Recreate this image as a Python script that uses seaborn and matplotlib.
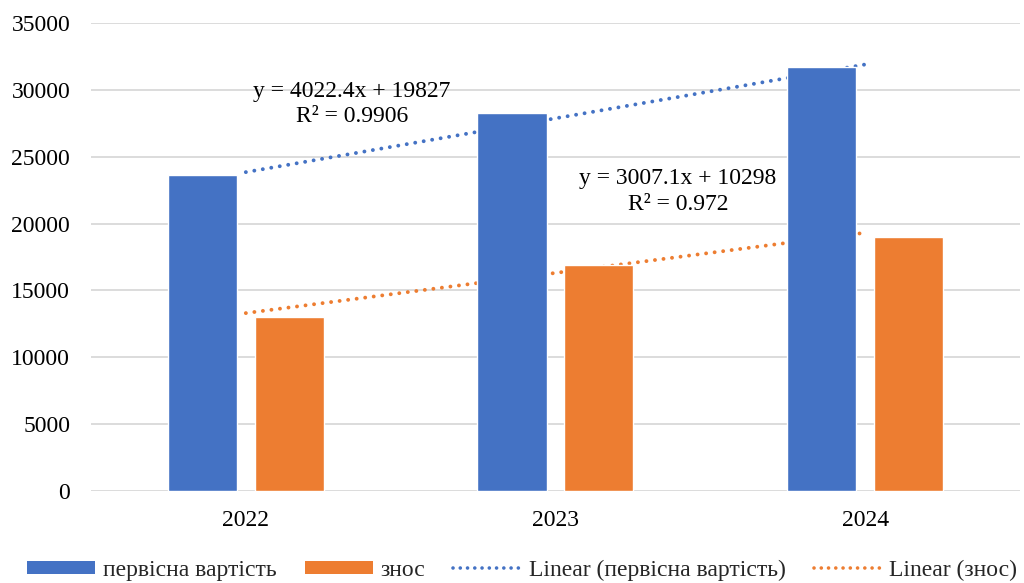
import numpy as np
import pandas as pd
import matplotlib
matplotlib.use("Agg")
import matplotlib.pyplot as plt
import seaborn as sns
from matplotlib.lines import Line2D
from matplotlib.patches import Patch

years = ["2022", "2023", "2024"]
series_names = ["первісна вартість", "знос"]
initial_cost = [23650, 28270, 31700]
depreciation = [13000, 16920, 19010]
eq_texts = ["y = 4022.4x + 19827\nR² = 0.9906", "y = 3007.1x + 10298\nR² = 0.972"]
yticks = [0, 5000, 10000, 15000, 20000, 25000, 30000, 35000]

colors = ["#4472C4", "#ED7D31"]

sns.set_theme(style="white")
plt.rcParams["font.family"] = ["Liberation Serif", "DejaVu Serif"]

df = pd.DataFrame({
    "year": years * 2,
    "series": [series_names[0]] * 3 + [series_names[1]] * 3,
    "value": initial_cost + depreciation,
})

fig = plt.figure(figsize=(10.24, 5.83), dpi=100)
ax = fig.add_axes([0.0889, 0.1578, 0.996 - 0.0889, 0.9605 - 0.1578])

sns.barplot(data=df, x="year", y="value", hue="series", palette=colors,
            width=0.56, gap=0.2, ax=ax, legend=False, zorder=3,
            saturation=1, err_kws={"linewidth": 0})

dot = (0, (0.01, 2.2))

# trendlines (Excel-style, x = 1..n)
xs = np.arange(1, len(years) + 1)
pos = np.arange(len(years))
for vals, c in zip([initial_cost, depreciation], colors):
    k, b = np.polyfit(xs, vals, 1)
    line, = ax.plot(pos, k * xs + b, linestyle=dot, color=c, linewidth=2.8,
                    zorder=2)
    line.set_dash_capstyle("round")

ax.text(0.343, 28950, eq_texts[0], ha="center", va="center", fontsize=17,
        color="#000000", linespacing=1.3, zorder=4)
ax.text(1.396, 22400, eq_texts[1], ha="center", va="center", fontsize=17,
        color="#000000", linespacing=1.3, zorder=4)

ax.set_xlim(-0.5, 2.5)
ax.set_ylim(0, 35000)
ax.set_yticks(yticks)
ax.set_yticklabels([str(t) for t in yticks])
ax.yaxis.grid(True, color="#D9D9D9", linewidth=1.3, zorder=0)
ax.set_axisbelow(True)
for s in ax.spines.values():
    s.set_visible(False)
ax.tick_params(axis="both", length=0, labelsize=17, colors="#000000")
ax.tick_params(axis="y", pad=15)
ax.tick_params(axis="x", pad=14)
ax.set_xlabel("")
ax.set_ylabel("")

handles = [
    Patch(facecolor=colors[0], edgecolor="none"),
    Patch(facecolor=colors[1], edgecolor="none"),
    Line2D([0], [0], color=colors[0], linestyle=(0, (0.01, 2.0)), linewidth=2.6,
           dash_capstyle="round"),
    Line2D([0], [0], color=colors[1], linestyle=(0, (0.01, 2.0)), linewidth=2.6,
           dash_capstyle="round"),
]
labels = [series_names[0], series_names[1],
          f"Linear ({series_names[0]})", f"Linear ({series_names[1]})"]
fig.legend(handles, labels, loc="center", bbox_to_anchor=(0.51, 0.022),
           ncol=4, frameon=False, fontsize=17, handlelength=2.9,
           handleheight=0.5, columnspacing=1.2, handletextpad=0.3)

fig.savefig("out.png", dpi=100)
